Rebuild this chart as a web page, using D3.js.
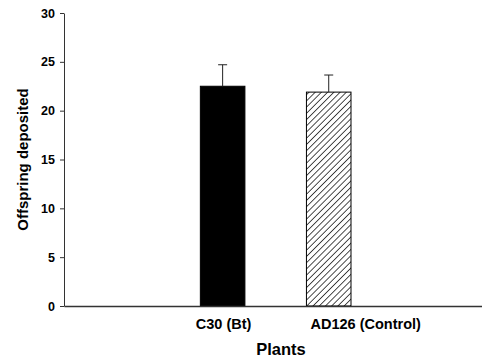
<!DOCTYPE html>
<html>
<head>
<meta charset="utf-8">
<script src="https://cdn.jsdelivr.net/npm/d3@7"></script>
<style>
  body { margin: 0; background: #fff; }
  svg text { font-family: "Liberation Sans", Arial, sans-serif; font-weight: bold; fill: #000; }
</style>
</head>
<body>
<div id="chart"></div>
<script>
// data
const categories = ['C30 (Bt)', 'AD126 (Control)'];
const means = [22.5, 21.9];
const errors = [2.2, 1.75];
const yTicks = [0, 5, 10, 15, 20, 25, 30];

const width = 482;
const height = 361;
const margin = { top: 13, right: 0, bottom: 55, left: 64 };
const innerW = width - margin.left - margin.right;
const innerH = height - margin.top - margin.bottom;

const svg = d3.select('#chart')
    .append('svg')
    .attr('width', width)
    .attr('height', height);

const defs = svg.append('defs');
defs.append('pattern')
    .attr('id', 'hatch')
    .attr('patternUnits', 'userSpaceOnUse')
    .attr('width', 4.4)
    .attr('height', 4.4)
    .attr('patternTransform', 'rotate(45)')
    .append('line')
    .attr('x1', 0).attr('y1', 0)
    .attr('x2', 0).attr('y2', 4.4)
    .attr('stroke', '#000')
    .attr('stroke-width', 1.4);

const g = svg.append('g')
    .attr('transform', `translate(${margin.left},${margin.top})`);

const x = d3.scaleBand()
    .domain(categories)
    .range([0, innerW])
    .paddingInner(0.58)
    .paddingOuter(1.26)
    .align(0.51);

const y = d3.scaleLinear()
    .domain([0, 30])
    .range([innerH, 0]);

// bars
g.selectAll('rect.bar')
    .data(categories)
    .enter()
    .append('rect')
    .attr('class', 'bar')
    .attr('x', d => x(d))
    .attr('y', (d, i) => y(means[i]))
    .attr('width', x.bandwidth())
    .attr('height', (d, i) => innerH - y(means[i]))
    .attr('fill', (d, i) => i === 0 ? '#000' : 'url(#hatch)')
    .attr('stroke', '#000')
    .attr('stroke-width', 1);

// error bars (upper only)
const cap = 4.5;
const eb = g.selectAll('g.err')
    .data(categories)
    .enter()
    .append('g')
    .attr('class', 'err')
    .attr('stroke', '#222')
    .attr('stroke-width', 1);

eb.append('line')
    .attr('x1', d => x(d) + x.bandwidth() / 2)
    .attr('x2', d => x(d) + x.bandwidth() / 2)
    .attr('y1', (d, i) => y(means[i]))
    .attr('y2', (d, i) => y(means[i] + errors[i]));

eb.append('line')
    .attr('x1', d => x(d) + x.bandwidth() / 2 - cap)
    .attr('x2', d => x(d) + x.bandwidth() / 2 + cap)
    .attr('y1', (d, i) => y(means[i] + errors[i]))
    .attr('y2', (d, i) => y(means[i] + errors[i]));

// y axis
g.append('g')
    .attr('class', 'y axis')
    .call(d3.axisLeft(y).tickValues(yTicks).tickSize(4).tickSizeOuter(0).tickPadding(5))
    .call(a => a.select('.domain').attr('stroke', '#333'))
    .call(a => a.selectAll('.tick line').attr('stroke', '#333'))
    .call(a => a.selectAll('.tick text').attr('font-size', 12.5).attr('font-family', null));

// x axis
g.append('g')
    .attr('class', 'x axis')
    .attr('transform', `translate(0,${innerH})`)
    .call(d3.axisBottom(x).tickSize(0).tickSizeOuter(0).tickPadding(13))
    .call(a => a.select('.domain').attr('stroke', '#333').attr('stroke-width', 1.5))
    .call(a => a.selectAll('.tick text')
        .attr('font-size', 14.5)
        .attr('font-family', null)
        .attr('dx', (d, i) => i === 1 ? 37 : 1));

// axis titles
svg.append('text')
    .attr('x', 281)
    .attr('y', 355)
    .attr('text-anchor', 'middle')
    .attr('font-size', 16.5)
    .text('Plants');

svg.append('text')
    .attr('transform', `translate(28,${margin.top + innerH / 2}) rotate(-90)`)
    .attr('text-anchor', 'middle')
    .attr('font-size', 15)
    .text('Offspring deposited');
</script>
</body>
</html>
